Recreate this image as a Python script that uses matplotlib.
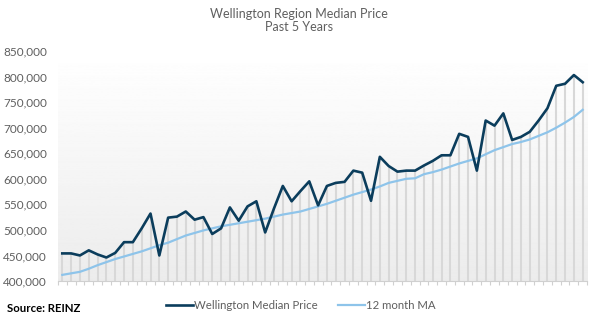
import matplotlib
matplotlib.use('Agg')
import matplotlib.pyplot as plt
import numpy as np

plt.rcParams['font.family'] = ['Lato', 'DejaVu Sans']

# monthly values, 5 years
median_price = [454000, 454000, 450000, 460000, 452000, 446000, 455000, 476000, 476000, 503000,
                532000, 450000, 524000, 526000, 536000, 520000, 525000, 492000, 503000, 544000,
                518000, 546000, 556000, 495000, 542000, 586000, 556000, 576000, 595000, 548000,
                586000, 592000, 594000, 616000, 612000, 557000, 643000, 625000, 614000, 616000,
                616000, 626000, 635000, 646000, 646000, 688000, 682000, 616000, 714000, 704000,
                728000, 676000, 682000, 692000, 714000, 738000, 782000, 786000, 803000, 789000]
moving_avg = [412000, 415000, 418000, 424000, 431000, 437000, 443000, 448000, 453000, 458000,
              464000, 470000, 475000, 482000, 489000, 494000, 499000, 503000, 507000, 510000,
              513000, 516000, 519000, 522000, 526000, 530000, 533000, 536000, 541000, 546000,
              551000, 557000, 563000, 569000, 574000, 579000, 585000, 592000, 596000, 600000,
              601000, 609000, 613000, 618000, 624000, 630000, 635000, 640000, 648000, 656000,
              662000, 668000, 672000, 677000, 684000, 691000, 700000, 710000, 721000, 735000]
y_ticks = [400000, 450000, 500000, 550000, 600000, 650000, 700000, 750000, 800000, 850000]

dark = '#0b3d5c'
light = '#8ec4ea'
grey_txt = '#5f5f5f'

fig = plt.figure(figsize=(5.98, 3.23), dpi=100)
ax = fig.add_axes([0.0968, 0.130, 0.8850, 0.712])

x = np.arange(len(median_price))
ymin, ymax = 400000, 850000
ax.set_xlim(-0.5, len(x) - 0.5)
ax.set_ylim(ymin, ymax)

# gradient background, grey at bottom fading to white
grad = np.linspace(0.925, 1.0, 256).reshape(-1, 1)
ax.imshow(grad, cmap='gray', vmin=0, vmax=1, origin='lower', aspect='auto',
          extent=(-0.5, len(x) - 0.5, ymin, ymax), zorder=0)

ax.vlines(x, ymin, median_price, color='#d8d8d8', lw=1.5, zorder=1)
ax.plot(x, median_price, color=dark, lw=1.9, label='Wellington Median Price', zorder=3)
ax.plot(x, moving_avg, color=light, lw=1.6, label='12 month MA', zorder=2)

for s in ['top', 'right', 'left']:
    ax.spines[s].set_visible(False)
ax.spines['bottom'].set_color('#d0d0d0')
ax.set_xticks(np.arange(-0.5, len(x), 1.0))
ax.set_xticklabels([])
ax.tick_params(axis='x', length=3, color='#d0d0d0', width=0.8)
ax.set_yticks(y_ticks)
ax.set_yticklabels(['{:,}'.format(v) for v in y_ticks])
ax.tick_params(axis='y', length=0, pad=8, labelsize=8.5, labelcolor=grey_txt)

fig.text(0.5, 0.935, 'Wellington Region Median Price\nPast 5 Years', ha='center', va='center',
         fontsize=9, color=grey_txt, linespacing=1.1)

fig.legend(loc='center', bbox_to_anchor=(0.503, 0.055), ncol=2, frameon=False,
           fontsize=8.2, handlelength=2.4, handletextpad=0.1, columnspacing=1.75,
           labelcolor=grey_txt)

fig.text(0.012, 0.044, 'Source: REINZ', ha='left', va='center', fontsize=8.2,
         fontweight='bold', color='black')

fig.savefig('out.png', dpi=100)
